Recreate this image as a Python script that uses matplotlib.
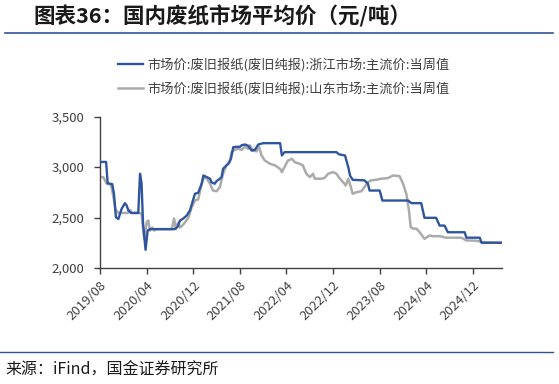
import matplotlib
matplotlib.use('Agg')
import matplotlib.pyplot as plt
import matplotlib.dates as mdates
import matplotlib.ticker as mticker
import pandas as pd

plt.rcParams['font.family'] = ['Noto Sans CJK SC', 'DejaVu Sans']

title = '图表36：国内废纸市场平均价（元/吨）'
source = '来源：iFind，国金证券研究所'
label_zj = '市场价:废旧报纸(废旧纯报):浙江市场:主流价:当周值'
label_sd = '市场价:废旧报纸(废旧纯报):山东市场:主流价:当周值'

# Zhejiang (blue)
zj_dates = [
    '2019-08-01', '2019-09-02', '2019-09-10', '2019-10-04', '2019-10-13', '2019-10-23',
    '2019-11-05', '2019-11-22', '2019-12-09', '2019-12-18', '2019-12-27', '2020-01-10',
    '2020-02-17', '2020-02-26', '2020-03-05', '2020-03-13', '2020-03-26', '2020-04-06',
    '2020-04-18', '2020-08-27', '2020-09-10', '2020-09-22', '2020-10-09', '2020-10-27',
    '2020-11-13', '2020-12-09', '2020-12-26', '2021-01-13', '2021-01-22', '2021-02-09',
    '2021-02-26', '2021-03-05', '2021-03-22', '2021-04-01', '2021-04-18', '2021-04-27',
    '2021-05-05', '2021-05-22', '2021-06-01', '2021-06-15', '2021-06-27', '2021-07-14',
    '2021-08-01', '2021-08-10', '2021-08-27', '2021-09-13', '2021-10-01', '2021-10-18',
    '2021-11-05', '2021-12-01', '2022-02-27', '2022-03-08', '2022-03-22', '2022-12-18',
    '2023-01-01', '2023-02-01', '2023-02-18', '2023-02-27', '2023-03-13', '2023-05-13',
    '2023-06-01', '2023-06-09', '2023-08-01', '2023-08-15', '2023-12-27', '2024-01-14',
    '2024-03-05', '2024-03-22', '2024-05-22', '2024-06-09', '2024-07-05', '2024-07-22',
    '2024-10-18', '2024-10-27', '2025-01-05', '2025-01-14', '2025-04-28',
]
zj_values = [
    3050, 3050, 2840, 2830, 2735, 2503,
    2485, 2586, 2642, 2620, 2570, 2545,
    2545, 2933, 2840, 2437, 2180, 2371,
    2385, 2385, 2410, 2470, 2490, 2520,
    2570, 2735, 2745, 2834, 2916, 2900,
    2884, 2850, 2834, 2860, 2884, 2900,
    2982, 3015, 3032, 3081, 3196, 3200,
    3200, 3215, 3223, 3210, 3163, 3170,
    3223, 3236, 3236, 3114, 3147, 3147,
    3125, 3114, 2998, 2916, 2873, 2868,
    2834, 2767, 2767, 2668, 2668, 2642,
    2642, 2497, 2497, 2420, 2420, 2354,
    2354, 2300, 2300, 2250, 2250,
]

# Shandong (gray)
sd_dates = [
    '2019-08-01', '2019-08-18', '2019-09-05', '2019-09-27', '2019-10-09', '2019-10-21',
    '2019-11-05', '2019-12-25', '2020-01-05', '2020-01-15', '2020-02-17', '2020-03-05',
    '2020-03-19', '2020-04-01', '2020-04-09', '2020-04-18', '2020-04-30', '2020-05-10',
    '2020-05-20', '2020-08-10', '2020-08-22', '2020-08-31', '2020-09-13', '2020-09-22',
    '2020-10-09', '2020-11-05', '2020-11-22', '2020-12-09', '2020-12-26', '2021-01-13',
    '2021-01-27', '2021-02-09', '2021-02-26', '2021-03-13', '2021-04-01', '2021-04-18',
    '2021-05-05', '2021-05-22', '2021-06-09', '2021-06-18', '2021-07-05', '2021-07-22',
    '2021-08-10', '2021-08-27', '2021-09-13', '2021-09-22', '2021-10-09', '2021-10-27',
    '2021-11-09', '2021-11-22', '2021-12-09', '2022-01-05', '2022-02-01', '2022-02-27',
    '2022-03-08', '2022-03-22', '2022-04-09', '2022-04-30', '2022-05-14', '2022-06-09',
    '2022-06-26', '2022-07-14', '2022-08-01', '2022-08-18', '2022-08-27', '2022-09-13',
    '2022-10-01', '2022-10-18', '2022-11-05', '2022-12-01', '2022-12-18', '2023-01-05',
    '2023-01-22', '2023-02-05', '2023-02-18', '2023-03-01', '2023-03-13', '2023-04-01',
    '2023-04-27', '2023-05-13', '2023-06-01', '2023-06-18', '2023-07-14', '2023-08-09',
    '2023-09-13', '2023-10-09', '2023-11-13', '2023-12-01', '2023-12-18', '2024-01-01',
    '2024-01-10', '2024-01-22', '2024-02-09', '2024-02-26', '2024-03-22', '2024-04-18',
    '2024-05-05', '2024-06-09', '2024-07-14', '2024-10-01', '2024-10-27', '2024-12-18',
    '2025-01-22', '2025-04-28',
]
sd_values = [
    2900, 2900, 2834, 2825, 2718, 2580,
    2545, 2545, 2575, 2545, 2545, 2540,
    2289, 2454, 2470, 2370, 2400, 2370,
    2384, 2384, 2490, 2390, 2450, 2400,
    2430, 2500, 2602, 2668, 2680, 2834,
    2900, 2884, 2834, 2767, 2760, 2800,
    2933, 3015, 3048, 3147, 3170, 3180,
    3170, 3200, 3180, 3215, 3163, 3155,
    3200, 3114, 3064, 3032, 3015, 2982,
    2950, 3000, 3064, 3081, 3048, 3032,
    3015, 2933, 2900, 2933, 2884, 2884,
    2884, 2893, 2933, 2950, 2933, 2884,
    2850, 2817, 2884, 2817, 2735, 2750,
    2760, 2800, 2850, 2868, 2873, 2884,
    2890, 2916, 2910, 2834, 2735, 2570,
    2404, 2390, 2390, 2354, 2289, 2322,
    2315, 2315, 2300, 2300, 2273, 2270,
    2255, 2250,
]

tick_dates = ['2019-08-01', '2020-04-01', '2020-12-01', '2021-08-01', '2022-04-01',
              '2022-12-01', '2023-08-01', '2024-04-01', '2024-12-01']

blue = '#2F55A0'
gray = '#ABABAB'
text_color = '#404040'

fig = plt.figure(figsize=(5.59, 3.84), dpi=100)
ax = fig.add_axes([100 / 559, 1 - 268 / 384, 402 / 559, 151.5 / 384])

ax.plot(pd.to_datetime(zj_dates), zj_values, color=blue, lw=1.7, label=label_zj, zorder=3)
ax.plot(pd.to_datetime(sd_dates), sd_values, color=gray, lw=1.8, label=label_sd, zorder=2)

ax.set_ylim(2000, 3500)
ax.set_yticks([2000, 2500, 3000, 3500])
ax.yaxis.set_major_formatter(mticker.FuncFormatter(lambda v, p: '{:,.0f}'.format(v)))
ax.set_xlim(pd.Timestamp('2019-08-01'), pd.Timestamp('2025-05-01'))
ax.set_xticks(pd.to_datetime(tick_dates))
ax.xaxis.set_major_formatter(mdates.DateFormatter('%Y/%m'))

for side in ['top', 'right']:
    ax.spines[side].set_visible(False)
for side in ['left', 'bottom']:
    ax.spines[side].set_color('#404040')
    ax.spines[side].set_linewidth(1.0)
ax.tick_params(axis='both', colors='#404040', labelcolor=text_color, labelsize=9.5,
               length=4, width=1.0, direction='out')
ax.tick_params(axis='y', pad=7)
ax.tick_params(axis='x', pad=4)
plt.setp(ax.get_xticklabels(), rotation=45, ha='right', rotation_mode='anchor')

fig.legend(loc='upper left', bbox_to_anchor=(118 / 559, 1 - 58 / 384), frameon=False,
           fontsize=9.5, handlelength=1.9, handletextpad=0.3, labelspacing=0.75,
           borderpad=0, borderaxespad=0, labelcolor=text_color)

fig.text(33 / 559, 1 - 16 / 384, title, fontsize=15.5, fontweight='bold', style='italic',
         color='#1a1a1a', va='center', ha='left')
fig.add_artist(plt.Line2D([5 / 559, 553 / 559], [1 - 33 / 384, 1 - 33 / 384],
                          color='#2F5597', lw=1.2))
fig.add_artist(plt.Line2D([0, 553 / 559], [1 - 352 / 384, 1 - 352 / 384],
                          color='#2F5597', lw=1.0))
fig.text(5 / 559, 1 - 370 / 384, source, fontsize=11.5, color='#1a1a1a', va='center', ha='left')

fig.savefig('out.png', dpi=100)
